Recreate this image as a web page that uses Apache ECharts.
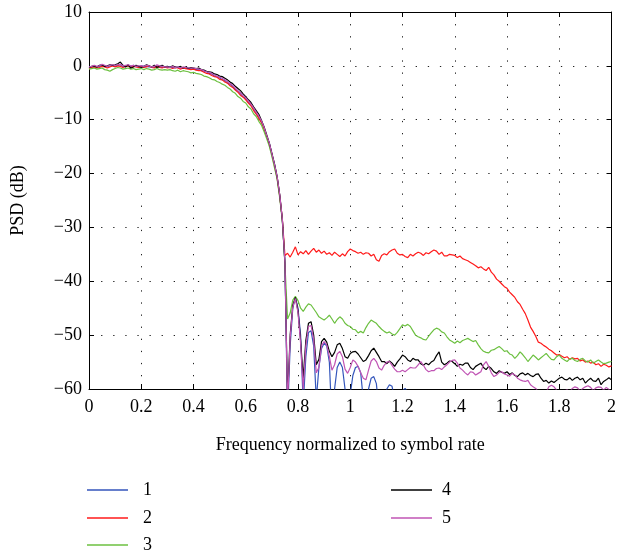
<!DOCTYPE html>
<html>
<head>
<meta charset="utf-8">
<script src="https://cdn.jsdelivr.net/npm/echarts@6/dist/echarts.min.js"></script>
<style>
html,body{margin:0;padding:0;background:#fff;}
#chart{width:619px;height:552px;}
</style>
</head>
<body>
<div id="chart"></div>
<script>
// Frequency grid (normalized to symbol rate), step 0.01 from 0 to 2
const freqStep = 0.01;
const freqCount = 201;

const xTicks = [0, 0.2, 0.4, 0.6, 0.8, 1, 1.2, 1.4, 1.6, 1.8, 2];
const yTicks = [10, 0, -10, -20, -30, -40, -50, -60];
const seriesNames = ['1', '2', '3', '4', '5'];
const seriesColors = ['#3355bb', '#ff1a1a', '#6cc040', '#000000', '#c054b4'];

// PSD (dB) per series, one value per frequency step (rows of 10)
const psd1 = [
 -0.4,-0.2,-0.2,-0.3,-0.1,0.0,-0.1,-0.2,0.0,0.1,
 -0.1,0.1,0.2,-0.1,0.0,0.0,-0.2,0.1,-0.1,-0.2,
 0.0,-0.1,-0.1,-0.2,-0.2,-0.3,0.0,-0.2,-0.3,-0.2,
 -0.3,-0.2,-0.3,-0.4,-0.2,-0.4,-0.3,-0.5,-0.4,-0.6,
 -0.5,-0.7,-0.6,-0.9,-1.0,-1.1,-1.4,-1.5,-1.9,-2.0,
 -2.2,-2.6,-2.7,-3.2,-3.4,-3.8,-4.4,-4.7,-5.2,-5.8,
 -6.0,-6.8,-7.2,-8.0,-8.9,-9.5,-10.5,-11.5,-13.1,-14.3,
 -16.5,-18.3,-20.7,-24.1,-28.6,-36.5,-65,-52,-45,-43,
 -45,-50,-63,-54,-49.5,-49.2,-52,-62,-56,-52.5,
 -51.5,-52,-55,-66,-60,-56,-55,-56,-60,-70,
 -61,-57.5,-56,-55.8,-57,-62,-70,-60,-58,-57.7,
 -59,-64,-70,-63,-60,-59.2,-59.5,-62,-70,-63,
 -60.3,-59.9,-60.6,-64,-71,-66,-63.5,-65,-69,-74,
 -67,-64.5,-66,-70,-68,-65,-67,-72,-69,-66,
 -68,-73,-70,-67,-69,-74,-71,-68,-70,-75,
 -72,-69,-71,-76,-73,-70,-72,-77,-74,-71,
 -73,-78,-75,-72,-74,-79,-76,-73,-75,-80,
 -77,-74,-76,-81,-78,-75,-77,-82,-79,-76,
 -78,-83,-80,-77,-79,-84,-81,-78,-80,-85,
 -82,-79,-81,-86,-83,-80,-82,-87,-84,-81,
 -83
];
const psd2 = [
 -0.5,-0.3,-0.2,-0.4,-0.3,-0.1,-0.2,-0.4,-0.2,0.0,
 -0.2,0.0,-0.1,-0.3,-0.1,0.0,-0.3,-0.1,-0.2,-0.3,
 -0.1,-0.3,-0.2,0.0,-0.3,-0.4,-0.1,-0.3,-0.4,-0.2,
 -0.4,-0.3,-0.5,-0.3,-0.4,-0.6,-0.4,-0.5,-0.6,-0.7,
 -0.6,-0.8,-0.9,-0.9,-1.2,-1.4,-1.5,-1.8,-2.0,-2.1,
 -2.5,-2.6,-3.0,-3.2,-3.7,-4.0,-4.5,-4.9,-5.5,-5.8,
 -6.3,-6.9,-7.4,-8.3,-8.9,-9.8,-10.5,-11.8,-13.1,-14.6,
 -16.5,-18.6,-20.8,-24.2,-28.4,-35.2,-34.8,-35.5,-34.6,-33.6,
 -35.1,-34.5,-34.9,-34.3,-35.0,-34.4,-33.9,-34.6,-34.2,-34.8,
 -34.4,-35.0,-34.7,-35.2,-34.6,-35.0,-35.4,-34.9,-35.3,-34.5,
 -34.0,-34.3,-34.5,-34.8,-34.6,-35.0,-34.7,-34.8,-35.3,-35.0,
 -36.0,-36.3,-35.2,-34.9,-35.1,-34.5,-34.2,-34.0,-34.8,-35.1,
 -35.0,-35.4,-35.6,-35.0,-35.3,-34.9,-34.6,-34.8,-35.2,-34.7,
 -34.9,-34.5,-34.2,-34.4,-35.0,-34.6,-35.3,-35.3,-35.0,-35.1,
 -35.2,-35.6,-35.3,-35.8,-36.0,-36.2,-36.5,-36.8,-37.1,-37.5,
 -37.3,-37.7,-38.0,-37.4,-38.3,-38.8,-39.6,-40.0,-40.5,-41.0,
 -41.3,-42.0,-42.5,-43.0,-43.8,-44.3,-45.2,-46.0,-47.2,-48.5,
 -49.3,-50.2,-51.3,-51.5,-51.9,-52.2,-52.6,-52.9,-53.3,-53.7,
 -53.6,-53.9,-54.2,-54.0,-54.5,-54.2,-54.4,-54.3,-54.8,-54.6,
 -55.0,-54.8,-55.2,-55.0,-55.5,-55.3,-55.8,-55.4,-55.6,-55.9,
 -55.7
];
const psd3 = [
 -0.6,-0.5,-0.4,-0.6,-0.5,-0.4,-0.7,-0.8,-1.0,-0.7,
 -0.5,-0.3,-0.4,-0.6,-0.5,-0.4,-0.6,-0.5,-0.7,-0.6,
 -0.5,-0.7,-0.5,-0.6,-0.8,-0.7,-0.5,-0.7,-0.8,-0.7,
 -0.8,-0.7,-0.9,-1.0,-0.8,-1.1,-0.9,-1.0,-1.1,-1.3,
 -1.2,-1.4,-1.5,-1.6,-1.9,-2.0,-2.2,-2.5,-2.6,-2.9,
 -3.1,-3.4,-3.6,-4.0,-4.3,-4.8,-5.1,-5.7,-6.0,-6.6,
 -6.9,-7.6,-8.0,-8.9,-9.4,-10.3,-11.0,-12.2,-13.5,-14.9,
 -16.8,-18.9,-21.0,-24.5,-28.8,-36.8,-47.0,-45.9,-43.5,-42.8,
 -43.6,-45.0,-45.6,-44.8,-44.2,-44.4,-45.1,-45.8,-46.6,-46.9,
 -47.2,-46.8,-46.3,-47.0,-47.8,-47.1,-46.6,-47.0,-47.8,-48.2,
 -48.4,-48.9,-49.0,-49.6,-49.3,-49.6,-48.6,-47.8,-47.2,-47.5,
 -47.8,-48.4,-48.9,-49.3,-49.6,-49.4,-49.8,-50.0,-49.5,-48.8,
 -48.1,-48.3,-48.0,-48.4,-49.2,-50.0,-50.3,-50.5,-50.8,-50.9,
 -50.2,-49.6,-49.0,-48.7,-48.9,-49.4,-49.6,-50.3,-50.9,-51.2,
 -51.5,-51.1,-51.4,-51.0,-50.8,-50.6,-50.9,-51.2,-51.0,-51.8,
 -52.5,-53.0,-53.2,-53.3,-52.8,-52.7,-52.4,-52.1,-52.5,-53.0,
 -52.9,-53.5,-53.7,-54.3,-53.8,-53.1,-53.6,-54.2,-54.9,-54.3,
 -53.7,-54.1,-54.6,-54.2,-53.8,-53.4,-54.0,-54.5,-54.6,-54.0,
 -53.7,-54.3,-54.6,-54.9,-54.4,-54.3,-54.7,-54.9,-54.5,-54.3,
 -54.8,-55.0,-54.6,-55.2,-54.9,-54.6,-55.0,-55.3,-55.2,-55.0,
 -54.9
];
const psd4 = [
 -0.3,-0.1,0.0,-0.2,0.1,0.2,-0.1,0.0,0.2,0.1,
 0.2,0.4,0.7,0.1,-0.2,0.2,-0.4,-0.2,0.1,-0.1,
 -0.3,-0.1,0.2,0.0,-0.2,0.1,-0.3,-0.1,0.1,-0.2,
 -0.1,-0.3,0.0,-0.2,-0.3,-0.1,-0.4,-0.2,-0.5,-0.3,
 -0.4,-0.5,-0.4,-0.7,-0.8,-1.0,-1.1,-1.2,-1.5,-1.6,
 -1.9,-2.0,-2.3,-2.6,-3.0,-3.3,-3.8,-4.2,-4.6,-5.2,
 -5.7,-6.3,-6.8,-7.6,-8.3,-9.0,-10.1,-11.3,-12.8,-14.3,
 -16.2,-18.2,-20.5,-23.9,-28.5,-36.6,-62,-50,-44.5,-43.0,
 -45.5,-51,-58,-51,-47.8,-47.5,-50,-55.5,-54.5,-51.2,
 -50.6,-51.3,-53.0,-54.0,-53.2,-51.8,-51.5,-52.5,-54.0,-54.3,
 -53.4,-53.1,-53.0,-53.5,-54.2,-54.9,-54.6,-53.8,-52.9,-52.4,
 -53.2,-54.0,-54.9,-54.9,-55.3,-54.8,-55.2,-55.8,-55.0,-54.4,
 -53.7,-54.0,-54.6,-54.9,-54.3,-54.6,-54.6,-55.3,-55.6,-55.2,
 -55.5,-55.0,-54.7,-53.8,-53.1,-55.0,-55.5,-55.2,-54.8,-54.9,
 -55.3,-55.8,-55.4,-55.6,-55.2,-55.2,-56.0,-56.4,-55.8,-55.5,
 -55.2,-56.0,-56.4,-55.8,-56.2,-56.8,-57.1,-56.6,-56.9,-57.1,
 -56.8,-57.3,-57.0,-57.5,-57.7,-57.2,-57.0,-57.4,-57.1,-57.5,
 -57.7,-57.3,-57.2,-58.0,-58.6,-58.4,-58.9,-58.5,-58.8,-58.4,
 -58.0,-57.8,-58.2,-58.3,-57.9,-58.4,-58.0,-57.8,-58.3,-58.0,
 -58.9,-58.4,-58.0,-58.5,-58.6,-58.0,-59.2,-58.6,-58.3,-57.9,
 -58.3
];
const psd5 = [
 -0.2,-0.1,0.1,-0.1,0.0,0.3,0.1,-0.1,0.1,0.2,
 0.1,0.2,0.3,0.0,0.1,0.2,0.0,0.1,-0.1,0.0,
 0.0,-0.1,0.1,0.0,-0.2,-0.1,0.2,0.0,-0.1,-0.2,
 -0.2,-0.3,-0.1,-0.3,-0.2,-0.4,-0.2,-0.3,-0.4,-0.4,
 -0.4,-0.5,-0.6,-0.7,-0.9,-1.1,-1.2,-1.4,-1.7,-1.9,
 -2.1,-2.3,-2.6,-2.9,-3.3,-3.6,-4.1,-4.6,-5.0,-5.5,
 -5.9,-6.5,-7.1,-7.8,-8.6,-9.3,-10.2,-11.4,-12.9,-14.3,
 -16.3,-18.3,-20.5,-23.9,-28.4,-36.4,-63,-50.5,-44.8,-43.2,
 -45.8,-51.5,-60,-52,-48.4,-48.2,-50.8,-57,-56,-52,
 -51.2,-51.8,-54.0,-56.5,-55.5,-53.5,-53.0,-54.0,-56.3,-57.1,
 -56.0,-54.6,-55.0,-55.8,-57.0,-58.0,-58.3,-56.5,-54.8,-54.3,
 -54.9,-56.1,-56.5,-55.6,-55.0,-54.9,-55.6,-56.3,-56.8,-56.8,
 -56.5,-56.8,-56.4,-56.0,-56.1,-56.1,-55.5,-54.9,-55.6,-56.4,
 -56.8,-56.6,-56.6,-56.2,-56.1,-56.4,-55.9,-55.5,-55.0,-54.7,
 -54.6,-55.2,-56.1,-56.5,-57.0,-57.4,-56.8,-56.9,-57.4,-57.1,
 -56.8,-55.5,-54.9,-55.8,-57.0,-57.7,-57.4,-56.9,-56.8,-57.2,
 -57.4,-57.6,-57.1,-57.4,-58.0,-58.3,-58.5,-58.6,-58.4,-59.2,
 -59.6,-59.9,-60.5,-60.3,-61.0,-60.6,-59.6,-59.3,-59.6,-60.2,
 -60.8,-61.0,-60.4,-60.1,-60.6,-59.9,-59.6,-59.8,-60.4,-59.9,
 -59.6,-59.4,-59.7,-60.3,-59.8,-59.6,-59.7,-60.2,-59.7,-60.1,
 -60.5
];

const allPsd = [psd1, psd2, psd3, psd4, psd5];
const FONT = 'Liberation Serif';

function pairs(arr) {
  const out = [];
  for (let i = 0; i < freqCount; i++) out.push([+(i * freqStep).toFixed(2), arr[i]]);
  return out;
}
const fmtY = v => (v < 0 ? '\u2212' + Math.abs(v) : String(v));
const fmtX = v => String(Math.round(v * 10) / 10);

const chart = echarts.init(document.getElementById('chart'), null, {renderer: 'canvas'});
const dotted = {color: '#222', width: 1, type: [1.3, 10.8]};
const baseX = {
  type: 'value', min: xTicks[0], max: xTicks[xTicks.length - 1], interval: 0.2,
  axisLine: {show: true, onZero: false, lineStyle: {color: '#000', width: 1}},
  axisTick: {show: true, inside: true, length: 5, lineStyle: {color: '#000'}}
};
const baseY = {
  type: 'value', min: yTicks[yTicks.length - 1], max: yTicks[0], interval: 10,
  axisLine: {show: true, onZero: false, lineStyle: {color: '#000', width: 1}},
  axisTick: {show: true, inside: true, length: 5, lineStyle: {color: '#000'}}
};

// legend placement: [left, centerY, textGap] per item
const legendPos = [[87, 490, 10], [87, 518, 10], [87, 545, 10], [391, 490, 5], [391, 518, 5]];
const legends = seriesNames.map((n, k) => ({
  data: [n], orient: 'vertical', left: legendPos[k][0], top: legendPos[k][1] - 9,
  icon: 'rect', itemWidth: 41, itemHeight: 1.6, padding: 0,
  textStyle: {fontFamily: FONT, fontSize: 18, lineHeight: 18, color: '#000',
              padding: [0, 0, 0, legendPos[k][2]]}
}));

chart.setOption({
  animation: false,
  backgroundColor: '#fff',
  grid: {left: 89, right: 5, top: 12, bottom: 163, containLabel: false},
  legend: legends,
  xAxis: [
    Object.assign({}, baseX, {
      position: 'bottom',
      name: 'Frequency normalized to symbol rate', nameLocation: 'middle', nameGap: 47,
      nameTextStyle: {fontFamily: FONT, fontSize: 18, color: '#000'},
      axisLabel: {fontFamily: FONT, fontSize: 18, color: '#000', margin: 9, formatter: fmtX},
      splitLine: {show: true, lineStyle: dotted}
    }),
    Object.assign({}, baseX, {
      position: 'top', axisLabel: {show: false}, splitLine: {show: false}
    })
  ],
  yAxis: [
    Object.assign({}, baseY, {
      position: 'left',
      name: 'PSD (dB)', nameLocation: 'middle', nameGap: 62,
      nameTextStyle: {fontFamily: FONT, fontSize: 18, color: '#000'},
      axisLabel: {fontFamily: FONT, fontSize: 18, color: '#000', margin: 7, formatter: fmtY},
      splitLine: {show: true, lineStyle: dotted}
    }),
    Object.assign({}, baseY, {
      position: 'right', axisLabel: {show: false}, splitLine: {show: false}
    })
  ],
  series: allPsd.map((arr, k) => ({
    name: seriesNames[k],
    type: 'line',
    xAxisIndex: 0, yAxisIndex: 0,
    data: pairs(arr),
    symbol: 'none',
    showSymbol: false,
    clip: true,
    color: seriesColors[k],
    lineStyle: {color: seriesColors[k], width: 1.2}
  }))
});
</script>
</body>
</html>
